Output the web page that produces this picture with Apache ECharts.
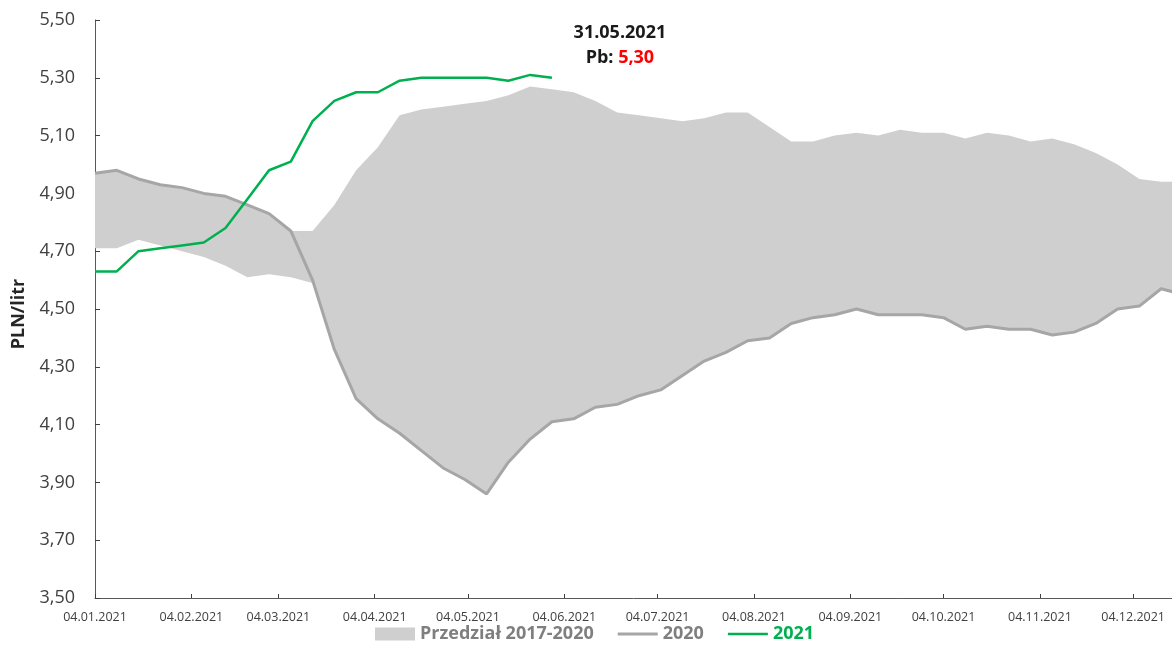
<!DOCTYPE html>
<html>
<head>
<meta charset="utf-8">
<script src="https://cdn.jsdelivr.net/npm/echarts@6/dist/echarts.min.js"></script>
<style>
  html, body { margin: 0; padding: 0; background: #ffffff; }
  #chart { width: 1172px; height: 666px; }
</style>
</head>
<body>
<div id="chart"></div>
<script>
// Weekly observation dates (Mondays)
const weeks = [
  '2021-01-04','2021-01-11','2021-01-18','2021-01-25','2021-02-01','2021-02-08','2021-02-15','2021-02-22',
  '2021-03-01','2021-03-08','2021-03-15','2021-03-22','2021-03-29','2021-04-05','2021-04-12','2021-04-19',
  '2021-04-26','2021-05-03','2021-05-10','2021-05-17','2021-05-24','2021-05-31','2021-06-07','2021-06-14',
  '2021-06-21','2021-06-28','2021-07-05','2021-07-12','2021-07-19','2021-07-26','2021-08-02','2021-08-09',
  '2021-08-16','2021-08-23','2021-08-30','2021-09-06','2021-09-13','2021-09-20','2021-09-27','2021-10-04',
  '2021-10-11','2021-10-18','2021-10-25','2021-11-01','2021-11-08','2021-11-15','2021-11-22','2021-11-29',
  '2021-12-06','2021-12-13','2021-12-20'
];

// Range of Pb95 prices 2017-2020: lower and upper bound (PLN/litr)
const rangeMin = [
  4.71, 4.71, 4.74, 4.72, 4.70, 4.68, 4.65, 4.61, 4.62, 4.61, 4.59, 4.36, 4.19, 4.12, 4.07, 4.01,
  3.95, 3.91, 3.86, 3.97, 4.05, 4.11, 4.12, 4.16, 4.17, 4.20, 4.22, 4.27, 4.32, 4.35, 4.39, 4.40,
  4.45, 4.47, 4.48, 4.50, 4.48, 4.48, 4.48, 4.47, 4.43, 4.44, 4.43, 4.43, 4.41, 4.42, 4.45, 4.50,
  4.51, 4.57, 4.55
];
const rangeMax = [
  4.97, 4.98, 4.95, 4.93, 4.92, 4.90, 4.89, 4.86, 4.83, 4.77, 4.77, 4.86, 4.98, 5.06, 5.17, 5.19,
  5.20, 5.21, 5.22, 5.24, 5.27, 5.26, 5.25, 5.22, 5.18, 5.17, 5.16, 5.15, 5.16, 5.18, 5.18, 5.13,
  5.08, 5.08, 5.10, 5.11, 5.10, 5.12, 5.11, 5.11, 5.09, 5.11, 5.10, 5.08, 5.09, 5.07, 5.04, 5.00,
  4.95, 4.94, 4.94
];

// 2020 prices
const prices2020 = [
  4.97, 4.98, 4.95, 4.93, 4.92, 4.90, 4.89, 4.86, 4.83, 4.77, 4.60, 4.36, 4.19, 4.12, 4.07, 4.01,
  3.95, 3.91, 3.86, 3.97, 4.05, 4.11, 4.12, 4.16, 4.17, 4.20, 4.22, 4.27, 4.32, 4.35, 4.39, 4.40,
  4.45, 4.47, 4.48, 4.50, 4.48, 4.48, 4.48, 4.47, 4.43, 4.44, 4.43, 4.43, 4.41, 4.42, 4.45, 4.50,
  4.51, 4.57, 4.55
];

// 2021 prices (up to 31.05.2021)
const prices2021 = [
  4.63, 4.63, 4.70, 4.71, 4.72, 4.73, 4.78, 4.88, 4.98, 5.01, 5.15, 5.22, 5.25, 5.25, 5.29, 5.30,
  5.30, 5.30, 5.30, 5.29, 5.31, 5.30
];

// Axis ticks
const monthTicks = [
  '2021-01-04','2021-02-04','2021-03-04','2021-04-04','2021-05-04','2021-06-04',
  '2021-07-04','2021-08-04','2021-09-04','2021-10-04','2021-11-04','2021-12-04'
];
const yTicks = [3.50, 3.70, 3.90, 4.10, 4.30, 4.50, 4.70, 4.90, 5.10, 5.30, 5.50];

const FONT = '"Open Sans", "Noto Sans", sans-serif';
const DAY = 86400000;

function ts(s) {
  const p = s.split('-').map(Number);
  return Date.UTC(p[0], p[1] - 1, p[2]);
}
const T0 = ts(weeks[0]);
// x position = days since the first observation
function dayOf(s) { return Math.round((ts(s) - T0) / DAY); }
function pad(n) { return (n < 10 ? '0' : '') + n; }
function fmtDay(day) {
  const d = new Date(T0 + day * DAY);
  return pad(d.getUTCDate()) + '.' + pad(d.getUTCMonth() + 1) + '.' + d.getUTCFullYear();
}
function fmtNum(v) { return v.toFixed(2).replace('.', ','); }

const xDays = weeks.map(dayOf);
const data2020 = xDays.map((x, i) => [x, prices2020[i]]);
const data2021 = prices2021.map((v, i) => [xDays[i], v]);
const rangeData = xDays.map((x, i) => [x, rangeMin[i], rangeMax[i]]);

const lastIdx = prices2021.length - 1;
const lastX = xDays[lastIdx];
const lastVal = prices2021[lastIdx];

// Filled band between the yearly minimum and maximum, drawn as one polygon
function renderRange(params, api) {
  if (params.dataIndex !== 0) return null;
  const top = rangeData.map(d => api.coord([d[0], d[2]]));
  const bottom = rangeData.map(d => api.coord([d[0], d[1]])).reverse();
  const cs = params.coordSys;
  return {
    type: 'polygon',
    shape: { points: top.concat(bottom) },
    style: { fill: '#d0cfd0', stroke: null },
    clipPath: { type: 'rect', shape: { x: cs.x, y: cs.y, width: cs.width, height: cs.height } },
    silent: true
  };
}

// Plain line legend markers
const LINE_ICON_2020 = 'path://M0,0H40V3H0Z';
const LINE_ICON_2021 = 'path://M0,0H40V2.5H0Z';

const chart = echarts.init(document.getElementById('chart'), null, { renderer: 'canvas' });

chart.setOption({
  animation: false,
  backgroundColor: '#ffffff',
  textStyle: { fontFamily: FONT },
  grid: { left: 95, right: 0, top: 20, bottom: 68 },
  legend: {
    left: 370,
    top: 620,
    itemWidth: 40,
    itemHeight: 13,
    itemGap: 24,
    textStyle: { fontFamily: FONT, fontSize: 18, fontWeight: 'bold', color: '#7f7f7f' },
    data: [
      { name: 'Przedział 2017-2020', icon: 'rect', itemStyle: { color: '#d0cfd0' }, textStyle: { color: '#7f7f7f' } },
      { name: '2020', icon: LINE_ICON_2020, itemStyle: { color: '#a6a6a6' }, textStyle: { color: '#7f7f7f' } },
      { name: '2021', icon: LINE_ICON_2021, itemStyle: { color: '#00b050' }, textStyle: { color: '#00b050' } }
    ]
  },
  xAxis: {
    type: 'value',
    min: 0,
    max: 346.5,
    splitLine: { show: false },
    axisLine: { lineStyle: { color: '#595959', width: 1 } },
    axisTick: {
      show: true,
      inside: true,
      length: 4,
      lineStyle: { color: '#404040' },
      customValues: monthTicks.map(dayOf)
    },
    axisLabel: {
      customValues: monthTicks.map(dayOf),
      formatter: (v) => fmtDay(v),
      fontFamily: FONT,
      fontSize: 12.5,
      color: '#404040',
      margin: 13,
      hideOverlap: false
    }
  },
  yAxis: {
    type: 'value',
    min: 3.5,
    max: 5.5,
    name: 'PLN/litr',
    nameLocation: 'middle',
    nameGap: 67,
    nameTextStyle: {
      fontFamily: FONT, fontSize: 18, fontWeight: 'bold', color: '#262626',
      padding: [0, 10, 0, 0]
    },
    splitLine: { show: false },
    axisLine: { show: true, lineStyle: { color: '#595959', width: 1 } },
    axisTick: {
      show: true,
      inside: true,
      length: 5,
      lineStyle: { color: '#404040' },
      customValues: yTicks
    },
    axisLabel: {
      customValues: yTicks,
      formatter: (v) => fmtNum(v),
      fontFamily: FONT,
      fontSize: 18,
      color: '#404040',
      margin: 20
    }
  },
  series: [
    {
      name: 'Przedział 2017-2020',
      type: 'custom',
      renderItem: renderRange,
      data: rangeData,
      encode: { x: 0, y: [1, 2] },
      itemStyle: { color: '#d0cfd0' },
      silent: true,
      z: 1
    },
    {
      name: '2020',
      type: 'line',
      data: data2020,
      symbol: 'none',
      lineStyle: { color: '#a6a6a6', width: 3 },
      itemStyle: { color: '#a6a6a6' },
      z: 3
    },
    {
      name: '2021',
      type: 'line',
      data: data2021,
      symbol: 'none',
      lineStyle: { color: '#00b050', width: 2.5 },
      itemStyle: { color: '#00b050' },
      z: 4,
      markPoint: {
        symbol: 'circle',
        symbolSize: 0,
        data: [{ coord: [lastX, lastVal], value: lastVal }],
        label: {
          show: true,
          position: 'inside',
          offset: [68, -32],
          align: 'center',
          formatter: () => '{d|' + fmtDay(lastX) + '}\n{d|Pb: }{r|' + fmtNum(lastVal) + '}',
          rich: {
            d: { fontFamily: FONT, fontSize: 18, fontWeight: 'bold', color: '#1a1a1a', lineHeight: 25 },
            r: { fontFamily: FONT, fontSize: 18, fontWeight: 'bold', color: '#ff0000', lineHeight: 25 }
          }
        }
      }
    }
  ]
});
</script>
</body>
</html>
